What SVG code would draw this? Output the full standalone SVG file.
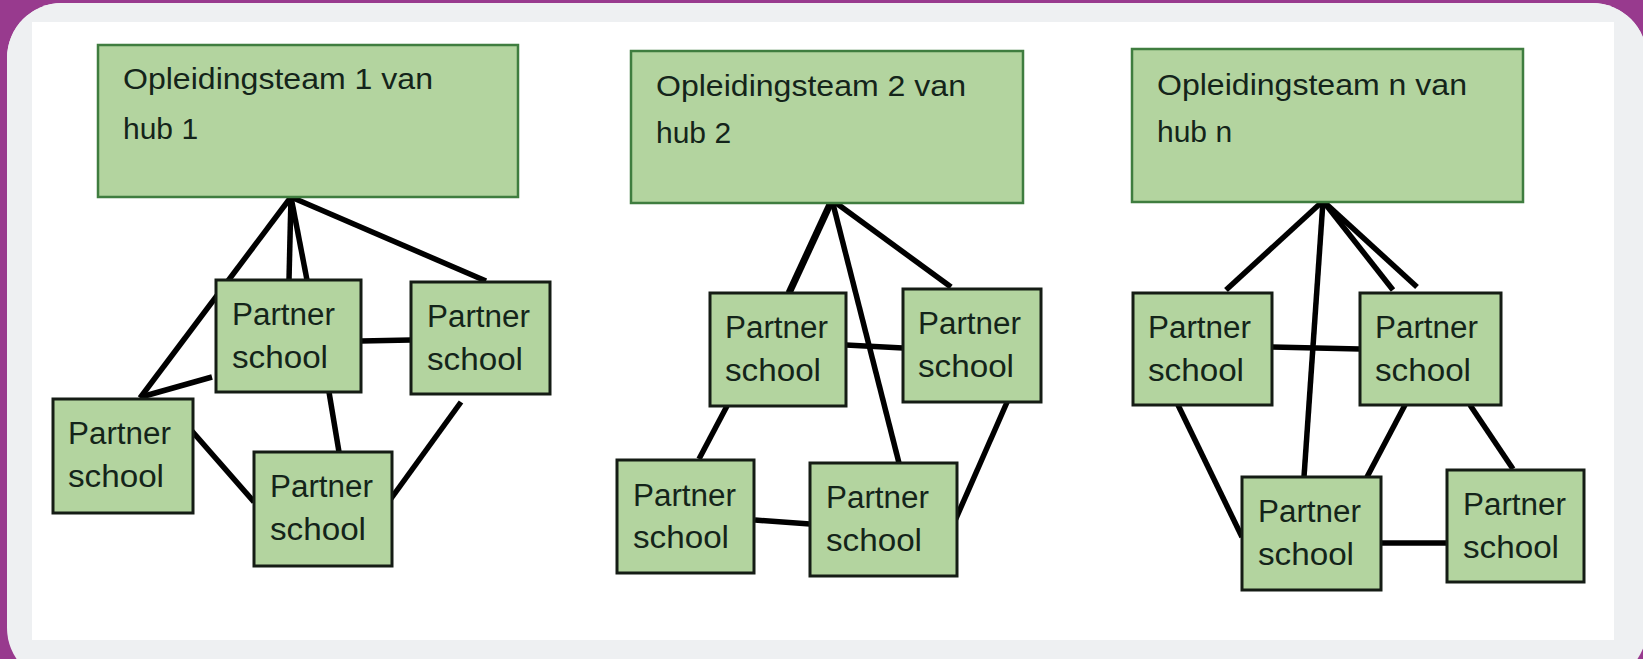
<svg xmlns="http://www.w3.org/2000/svg" width="1643" height="659" viewBox="0 0 1643 659">
<style>
.hub{fill:#b3d49f;stroke:#3f7d3f;stroke-width:2.5}
.ps{fill:#b3d49f;stroke:#151c15;stroke-width:3}
.ht{font-family:"Liberation Sans",Arial,sans-serif;font-size:30px;fill:#14241a}
.pt{font-family:"Liberation Sans",Arial,sans-serif;font-size:31px;fill:#14241a}
.c line{stroke:#000;stroke-width:5.5;stroke-linecap:butt}
</style>
<rect x="0" y="0" width="1643" height="659" fill="#983a8e"/>
<rect x="7" y="3" width="1640" height="680" rx="55" fill="#eef0f2"/>
<rect x="7" y="3" width="1640" height="656" rx="55" fill="#eef0f2"/>
<rect x="32" y="22" width="1582" height="618" fill="#ffffff"/>

<g id="connectors" class="c">
  <!-- hub 1 -->
  <line x1="291" y1="197" x2="140" y2="398"/>
  <line x1="291" y1="197" x2="289" y2="280"/>
  <line x1="291" y1="197" x2="307" y2="280"/>
  <line x1="291" y1="197" x2="486" y2="281"/>
  <line x1="141" y1="397" x2="212" y2="377"/>
  <line x1="361" y1="341" x2="411" y2="340"/>
  <line x1="329" y1="392" x2="339" y2="452"/>
  <line x1="191" y1="430" x2="254" y2="502"/>
  <line x1="461" y1="402" x2="390" y2="500"/>
  <!-- hub 2 -->
  <line x1="832" y1="200" x2="789" y2="293" style="stroke-width:7"/>
  <line x1="832" y1="200" x2="899" y2="463"/>
  <line x1="832" y1="200" x2="951" y2="287"/>
  <line x1="846" y1="345" x2="903" y2="348"/>
  <line x1="727" y1="406" x2="699" y2="459"/>
  <line x1="755" y1="520" x2="810" y2="524"/>
  <line x1="1008" y1="400" x2="954" y2="523"/>
  <!-- hub n -->
  <line x1="1323" y1="201" x2="1226" y2="290"/>
  <line x1="1323" y1="201" x2="1304" y2="477"/>
  <line x1="1323" y1="201" x2="1393" y2="290"/>
  <line x1="1323" y1="201" x2="1417" y2="287"/>
  <line x1="1272" y1="347" x2="1360" y2="349"/>
  <line x1="1178" y1="405" x2="1242" y2="537"/>
  <line x1="1405" y1="405" x2="1367" y2="477"/>
  <line x1="1470" y1="405" x2="1513" y2="469"/>
  <line x1="1381" y1="543" x2="1447" y2="543"/>
</g>

<g id="hub1">
  <rect class="hub" x="98" y="45" width="420" height="152"/>
  <text class="ht" x="123" y="89" textLength="310" lengthAdjust="spacingAndGlyphs">Opleidingsteam 1 van</text>
  <text class="ht" x="123" y="139">hub 1</text>
</g>
<g id="hub2">
  <rect class="hub" x="631" y="51" width="392" height="152"/>
  <text class="ht" x="656" y="96" textLength="310" lengthAdjust="spacingAndGlyphs">Opleidingsteam 2 van</text>
  <text class="ht" x="656" y="143">hub 2</text>
</g>
<g id="hubn">
  <rect class="hub" x="1132" y="49" width="391" height="153"/>
  <text class="ht" x="1157" y="95" textLength="310" lengthAdjust="spacingAndGlyphs">Opleidingsteam n van</text>
  <text class="ht" x="1157" y="142">hub n</text>
</g>

<g id="p1a"><rect class="ps" x="216" y="280" width="145" height="112"/>
  <text class="pt" x="232" y="325" textLength="103" lengthAdjust="spacingAndGlyphs">Partner</text>
  <text class="pt" x="232" y="368" textLength="96" lengthAdjust="spacingAndGlyphs">school</text></g>
<g id="p1b"><rect class="ps" x="411" y="282" width="139" height="112"/>
  <text class="pt" x="427" y="327" textLength="103" lengthAdjust="spacingAndGlyphs">Partner</text>
  <text class="pt" x="427" y="370" textLength="96" lengthAdjust="spacingAndGlyphs">school</text></g>
<g id="p1c"><rect class="ps" x="53" y="399" width="140" height="114"/>
  <text class="pt" x="68" y="444" textLength="103" lengthAdjust="spacingAndGlyphs">Partner</text>
  <text class="pt" x="68" y="487" textLength="96" lengthAdjust="spacingAndGlyphs">school</text></g>
<g id="p1d"><rect class="ps" x="254" y="452" width="138" height="114"/>
  <text class="pt" x="270" y="497" textLength="103" lengthAdjust="spacingAndGlyphs">Partner</text>
  <text class="pt" x="270" y="540" textLength="96" lengthAdjust="spacingAndGlyphs">school</text></g>

<g id="p2a"><rect class="ps" x="710" y="293" width="136" height="113"/>
  <text class="pt" x="725" y="338" textLength="103" lengthAdjust="spacingAndGlyphs">Partner</text>
  <text class="pt" x="725" y="381" textLength="96" lengthAdjust="spacingAndGlyphs">school</text></g>
<g id="p2b"><rect class="ps" x="903" y="289" width="138" height="113"/>
  <text class="pt" x="918" y="334" textLength="103" lengthAdjust="spacingAndGlyphs">Partner</text>
  <text class="pt" x="918" y="377" textLength="96" lengthAdjust="spacingAndGlyphs">school</text></g>
<g id="p2c"><rect class="ps" x="617" y="460" width="137" height="113"/>
  <text class="pt" x="633" y="506" textLength="103" lengthAdjust="spacingAndGlyphs">Partner</text>
  <text class="pt" x="633" y="548" textLength="96" lengthAdjust="spacingAndGlyphs">school</text></g>
<g id="p2d"><rect class="ps" x="810" y="463" width="147" height="113"/>
  <text class="pt" x="826" y="508" textLength="103" lengthAdjust="spacingAndGlyphs">Partner</text>
  <text class="pt" x="826" y="551" textLength="96" lengthAdjust="spacingAndGlyphs">school</text></g>

<g id="pn1"><rect class="ps" x="1133" y="293" width="139" height="112"/>
  <text class="pt" x="1148" y="338" textLength="103" lengthAdjust="spacingAndGlyphs">Partner</text>
  <text class="pt" x="1148" y="381" textLength="96" lengthAdjust="spacingAndGlyphs">school</text></g>
<g id="pn2"><rect class="ps" x="1360" y="293" width="141" height="112"/>
  <text class="pt" x="1375" y="338" textLength="103" lengthAdjust="spacingAndGlyphs">Partner</text>
  <text class="pt" x="1375" y="381" textLength="96" lengthAdjust="spacingAndGlyphs">school</text></g>
<g id="pn3"><rect class="ps" x="1242" y="477" width="139" height="113"/>
  <text class="pt" x="1258" y="522" textLength="103" lengthAdjust="spacingAndGlyphs">Partner</text>
  <text class="pt" x="1258" y="565" textLength="96" lengthAdjust="spacingAndGlyphs">school</text></g>
<g id="pn4"><rect class="ps" x="1447" y="470" width="137" height="112"/>
  <text class="pt" x="1463" y="515" textLength="103" lengthAdjust="spacingAndGlyphs">Partner</text>
  <text class="pt" x="1463" y="558" textLength="96" lengthAdjust="spacingAndGlyphs">school</text></g>
</svg>
